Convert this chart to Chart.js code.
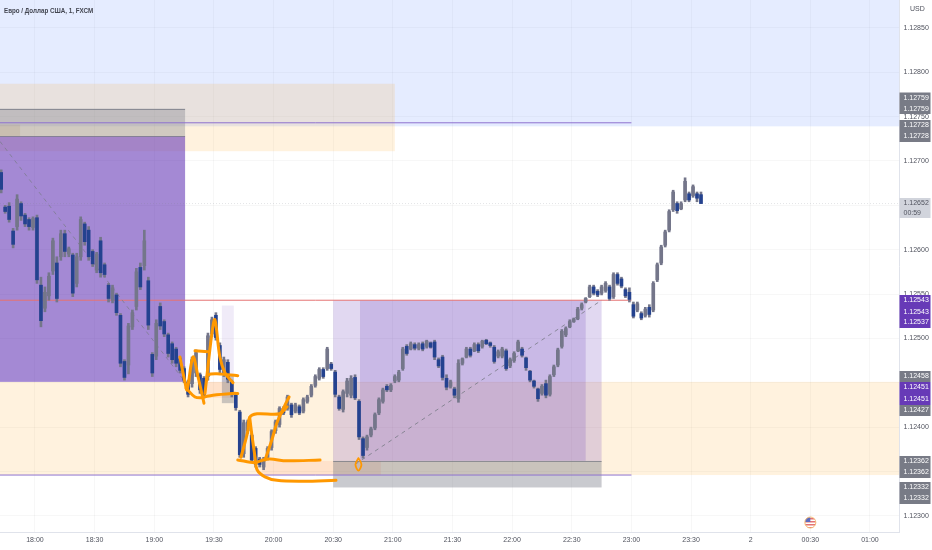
<!DOCTYPE html>
<html>
<head>
<meta charset="utf-8">
<title>EURUSD</title>
<style>
  html, body { margin: 0; padding: 0; background: #fff; }
  canvas { display: block; }
</style>
<script src="https://cdn.jsdelivr.net/npm/chart.js@4/dist/chart.umd.min.js"></script>
</head>
<body>
<canvas id="chart" width="932" height="550"></canvas>
<script>
// candles, 2 minutes each, first one at 17:43
const firstMinute = -17;
const highs = [
  1.12690,1.12650,1.12653,1.12624,1.12662,1.12654,1.12641,1.12636,1.12637,1.12639,
  1.12569,1.12558,1.12574,1.12613,1.12592,1.12622,1.12622,1.12603,1.12596,1.12596,
  1.12637,1.12631,1.12626,1.12600,1.12597,1.12614,1.12585,1.12562,1.12560,1.12551,
  1.12528,1.12476,1.12517,1.12532,1.12579,1.12585,1.12622,1.12569,1.12484,1.12521,
  1.12540,1.12521,1.12506,1.12496,1.12490,1.12479,1.12468,1.12453,1.12479,1.12487,
  1.12461,1.12457,1.12506,1.12524,1.12529,1.12495,1.12479,1.12476,1.12453,1.12438,
  1.12419,1.12408,1.12408,1.12393,1.12378,1.12366,1.12366,1.12378,1.12397,1.12408,
  1.12423,1.12423,1.12436,1.12427,1.12427,1.12425,1.12433,1.12436,1.12448,1.12459,
  1.12467,1.12467,1.12490,1.12473,1.12464,1.12436,1.12442,1.12455,1.12458,1.12459,
  1.12431,1.12389,1.12391,1.12400,1.12416,1.12433,1.12444,1.12448,1.12449,1.12459,
  1.12464,1.12490,1.12493,1.12496,1.12495,1.12495,1.12496,1.12498,1.12496,1.12498,
  1.12478,1.12481,1.12459,1.12453,1.12445,1.12476,1.12478,1.12490,1.12490,1.12495,
  1.12495,1.12498,1.12499,1.12496,1.12492,1.12487,1.12490,1.12488,1.12478,1.12485,
  1.12498,1.12490,1.12479,1.12464,1.12453,1.12444,1.12448,1.12453,1.12459,1.12470,
  1.12489,1.12510,1.12513,1.12521,1.12523,1.12535,1.12540,1.12546,1.12560,1.12560,
  1.12555,1.12560,1.12564,1.12560,1.12574,1.12574,1.12569,1.12557,1.12557,1.12541,
  1.12541,1.12530,1.12535,1.12538,1.12564,1.12585,1.12605,1.12622,1.12645,1.12667,
  1.12654,1.12654,1.12681,1.12665,1.12673,1.12665,1.12665
];
const lows = [
  1.12664,1.12641,1.12631,1.12602,1.12622,1.12633,1.12626,1.12622,1.12622,1.12562,
  1.12513,1.12530,1.12543,1.12572,1.12541,1.12588,1.12592,1.12592,1.12547,1.12558,
  1.12588,1.12605,1.12588,1.12581,1.12574,1.12569,1.12569,1.12541,1.12540,1.12526,
  1.12468,1.12453,1.12460,1.12510,1.12532,1.12555,1.12577,1.12510,1.12457,1.12476,
  1.12510,1.12502,1.12479,1.12472,1.12468,1.12461,1.12450,1.12434,1.12445,1.12457,
  1.12438,1.12433,1.12453,1.12502,1.12498,1.12461,1.12457,1.12450,1.12434,1.12419,
  1.12366,1.12366,1.12393,1.12360,1.12355,1.12355,1.12352,1.12363,1.12374,1.12393,
  1.12400,1.12414,1.12419,1.12411,1.12416,1.12414,1.12416,1.12427,1.12434,1.12445,
  1.12453,1.12455,1.12464,1.12464,1.12434,1.12419,1.12417,1.12434,1.12433,1.12431,
  1.12386,1.12365,1.12374,1.12389,1.12397,1.12414,1.12427,1.12440,1.12440,1.12450,
  1.12451,1.12464,1.12481,1.12487,1.12487,1.12487,1.12486,1.12489,1.12489,1.12476,
  1.12467,1.12453,1.12442,1.12444,1.12433,1.12428,1.12470,1.12478,1.12479,1.12485,
  1.12484,1.12489,1.12493,1.12490,1.12472,1.12478,1.12478,1.12464,1.12467,1.12473,
  1.12485,1.12479,1.12464,1.12451,1.12444,1.12429,1.12436,1.12433,1.12435,1.12457,
  1.12468,1.12489,1.12502,1.12512,1.12518,1.12521,1.12532,1.12540,1.12546,1.12549,
  1.12547,1.12549,1.12552,1.12543,1.12545,1.12560,1.12557,1.12546,1.12541,1.12523,
  1.12530,1.12521,1.12524,1.12524,1.12530,1.12564,1.12583,1.12603,1.12620,1.12643,
  1.12641,1.12645,1.12654,1.12654,1.12659,1.12654,1.12652
];
const opens = [
  1.12687,1.12648,1.12649,1.12621,1.12626,1.12652,1.12639,1.12634,1.12625,1.12636,
  1.12560,1.12534,1.12548,1.12576,1.12585,1.12592,1.12618,1.12595,1.12594,1.12562,
  1.12592,1.12629,1.12622,1.12598,1.12577,1.12610,1.12583,1.12560,1.12543,1.12549,
  1.12526,1.12474,1.12470,1.12513,1.12536,1.12580,1.12582,1.12565,1.12482,1.12480,
  1.12536,1.12519,1.12504,1.12494,1.12488,1.12477,1.12466,1.12451,1.12449,1.12461,
  1.12459,1.12455,1.12457,1.12505,1.12526,1.12492,1.12460,1.12473,1.12451,1.12436,
  1.12417,1.12370,1.12396,1.12391,1.12376,1.12364,1.12355,1.12366,1.12377,1.12396,
  1.12403,1.12421,1.12421,1.12425,1.12418,1.12423,1.12418,1.12429,1.12436,1.12447,
  1.12455,1.12465,1.12466,1.12471,1.12462,1.12434,1.12420,1.12438,1.12436,1.12456,
  1.12429,1.12387,1.12377,1.12391,1.12399,1.12416,1.12429,1.12446,1.12442,1.12452,
  1.12453,1.12466,1.12491,1.12488,1.12493,1.12489,1.12494,1.12491,1.12495,1.12496,
  1.12476,1.12479,1.12455,1.12446,1.12443,1.12432,1.12472,1.12479,1.12488,1.12486,
  1.12493,1.12491,1.12498,1.12495,1.12490,1.12480,1.12480,1.12486,1.12469,1.12475,
  1.12486,1.12488,1.12478,1.12463,1.12452,1.12443,1.12438,1.12449,1.12437,1.12459,
  1.12470,1.12491,1.12504,1.12513,1.12519,1.12522,1.12534,1.12541,1.12547,1.12558,
  1.12553,1.12551,1.12554,1.12558,1.12547,1.12572,1.12567,1.12555,1.12552,1.12538,
  1.12532,1.12528,1.12526,1.12535,1.12532,1.12566,1.12585,1.12605,1.12622,1.12645,
  1.12652,1.12646,1.12656,1.12663,1.12661,1.12663,1.12662
];
const closes = [
  1.12668,1.12643,1.12634,1.12606,1.12657,1.12638,1.12629,1.12626,1.12635,1.12566,
  1.12520,1.12552,1.12570,1.12610,1.12545,1.12618,1.12598,1.12601,1.12551,1.12592,
  1.12634,1.12609,1.12592,1.12584,1.12595,1.12574,1.12572,1.12545,1.12557,1.12529,
  1.12472,1.12456,1.12514,1.12529,1.12575,1.12558,1.12610,1.12515,1.12461,1.12517,
  1.12514,1.12505,1.12483,1.12476,1.12472,1.12464,1.12453,1.12437,1.12476,1.12484,
  1.12442,1.12436,1.12503,1.12521,1.12501,1.12465,1.12476,1.12454,1.12437,1.12422,
  1.12369,1.12405,1.12406,1.12363,1.12358,1.12358,1.12364,1.12376,1.12395,1.12406,
  1.12421,1.12416,1.12434,1.12414,1.12425,1.12416,1.12431,1.12434,1.12446,1.12457,
  1.12465,1.12457,1.12488,1.12466,1.12437,1.12421,1.12440,1.12452,1.12455,1.12433,
  1.12389,1.12368,1.12389,1.12398,1.12414,1.12431,1.12442,1.12442,1.12447,1.12457,
  1.12462,1.12488,1.12483,1.12494,1.12489,1.12493,1.12488,1.12497,1.12490,1.12479,
  1.12469,1.12456,1.12445,1.12451,1.12436,1.12472,1.12477,1.12488,1.12481,1.12493,
  1.12486,1.12497,1.12494,1.12492,1.12474,1.12485,1.12488,1.12466,1.12476,1.12483,
  1.12496,1.12481,1.12467,1.12453,1.12446,1.12432,1.12446,1.12436,1.12457,1.12468,
  1.12487,1.12508,1.12511,1.12519,1.12522,1.12533,1.12538,1.12545,1.12558,1.12551,
  1.12549,1.12558,1.12562,1.12545,1.12572,1.12562,1.12559,1.12548,1.12544,1.12525,
  1.12539,1.12523,1.12533,1.12527,1.12562,1.12583,1.12603,1.12620,1.12643,1.12665,
  1.12644,1.12652,1.12677,1.12656,1.12671,1.12658,1.12652
];

// axes
const timeTicks = [0, 30, 60, 90, 120, 150, 180, 210, 240, 270, 300, 330, 360, 390, 420];
const timeLabels = ['18:00', '18:30', '19:00', '19:30', '20:00', '20:30', '21:00', '21:30', '22:00', '22:30', '23:00', '23:30', '2', '00:30', '01:00'];
const priceTicks = [1.123, 1.1235, 1.124, 1.1245, 1.125, 1.1255, 1.126, 1.1265, 1.127, 1.1275, 1.128, 1.1285];

// horizontal levels [from minute, to minute, price]
const levelUpper = [[-17.6, 1.12743], [300, 1.12743]];
const levelMiddle = [[-17.6, 1.12543], [300, 1.12543]];
const levelLower = [[-17.6, 1.12346], [300, 1.12346]];
const lastPriceLine = [[-17.6, 1.12652], [434.6, 1.12652]];
const dashedDown = [[-17.6, 1.12722], [75.5, 1.12451]];
const dashedUp = [[161, 1.12358], [285, 1.12543]];

// hand drawn orange strokes [minute, price]
const strokeZigzagA = [[72.9, 1.12479], [75.5, 1.1245], [76.5, 1.12442], [79.5, 1.12479], [82, 1.12457], [85, 1.12427]];
const strokeZigzagB = [[85.5, 1.12438], [89, 1.12506], [90.5, 1.12521], [93, 1.12479], [95.6, 1.12461], [99.6, 1.1245]];
const strokeBaseA = [[76, 1.12444], [80.5, 1.12434], [84.5, 1.12433]];
const strokeBaseB = [[85, 1.12434], [89.5, 1.12436], [99.6, 1.12438], [102, 1.12438]];
const strokeTop = [[80.5, 1.12486], [87, 1.12485]];
const strokeMid = [[86.5, 1.12453], [87, 1.12459], [93, 1.1246], [97, 1.12459], [102, 1.12458]];
const strokeFloor = [[102, 1.12363], [110.7, 1.1236], [114.7, 1.12363], [118.2, 1.12364], [126.8, 1.12362], [143.4, 1.12363]];
const strokeRise = [[103.6, 1.12366], [107, 1.12395], [108, 1.12411], [111.7, 1.12415], [123, 1.12415], [126.8, 1.12423]];
const strokeDrop = [[108, 1.12411], [109, 1.12393], [110.7, 1.12366], [111.7, 1.12352], [115.7, 1.12344], [121.7, 1.1234], [134.8, 1.12339], [151.4, 1.1234]];
const strokeClimb = [[115.7, 1.12363], [119.2, 1.12386], [121.7, 1.12405], [125.8, 1.12425], [127.8, 1.12434]];
const strokeLoop = [[162.7, 1.12365], [164.2, 1.12358], [162.7, 1.12351], [161.2, 1.12358], [162.7, 1.12365]];

// shaded boxes [from minute, to minute, top price, bottom price, colour]
const zones = [
  [-17.6, 434.6, 1.1289, 1.12739, 'rgba(41,98,255,0.12)'],
  [-17.6, 434.6, 1.12451, 1.12346, 'rgba(255,152,0,0.13)'],
  [-17.6, 181, 1.12787, 1.12711, 'rgba(255,152,0,0.13)'],
  [-17.6, 75.5, 1.12728, 1.12451, 'rgba(103,58,183,0.6)'],
  [-17.6, 75.5, 1.12759, 1.12728, 'rgba(120,123,134,0.35)'],
  [-17.6, -7.5, 1.12741, 1.12728, 'rgba(160,130,80,0.15)'],
  [85.5, 100, 1.12451, 1.12433, 'rgba(255,112,67,0.12)'],
  [94, 100, 1.12537, 1.12451, 'rgba(103,58,183,0.1)'],
  [94, 100, 1.12458, 1.12427, 'rgba(120,123,134,0.4)'],
  [114, 174, 1.12362, 1.12346, 'rgba(255,112,67,0.12)'],
  [150, 285, 1.12543, 1.12362, 'rgba(103,58,183,0.2)'],
  [163.5, 277, 1.12543, 1.12362, 'rgba(103,58,183,0.2)'],
  [150, 285, 1.12362, 1.12332, 'rgba(120,123,134,0.4)']
];
const zoneEdges = [
  [-17.6, 75.5, 1.12759],
  [-17.6, 75.5, 1.12728],
  [150, 285, 1.12362]
];

// labels stacked on the price axis
const tagLabels = ['1.12759', '1.12759', '1.12728', '1.12728', '1.12543', '1.12543', '1.12537', '1.12458', '1.12451', '1.12451', '1.12427', '1.12362', '1.12362', '1.12332', '1.12332'];
const tagRows = [98, 109, 125.5, 136.5, 300.5, 312, 322.5, 376.5, 387.5, 399, 410.5, 461.5, 472.5, 487.5, 498.5];
const tagBoxes = [[92.5, 114, '#787b86'], [120, 142, '#787b86'], [295, 328, '#673ab7'], [371, 382, '#787b86'], [382, 405, '#673ab7'], [405, 416, '#787b86'], [456, 478, '#787b86'], [482, 504, '#787b86']];

const UP_COLOR = '#74768a';
const DOWN_COLOR = '#24428f';
const STROKE_COLOR = '#ff9800';
const AXIS_FONT = '"Liberation Sans", sans-serif';
const LABEL_SIZE = 7;
const GRID_COLOR = 'rgba(42,46,57,0.04)';

const minutes = highs.map((_, i) => firstMinute + i * 2);
const toPoints = list => list.map(p => ({ x: p[0], y: p[1] }));
const candleColor = i => closes[i] >= opens[i] ? UP_COLOR : DOWN_COLOR;

function levelDataset(points, color, width) {
    return {
        type: 'line', data: toPoints(points), borderColor: color, borderWidth: width,
        pointRadius: 0, order: 5
    };
}

function dashedDataset(points, color, dash) {
    return {
        type: 'line', data: toPoints(points), borderColor: color, borderWidth: 1,
        borderDash: dash, pointRadius: 0, order: 4
    };
}

function strokeDataset(points, width) {
    return {
        type: 'line', data: toPoints(points), borderColor: STROKE_COLOR, borderWidth: width || 3,
        pointRadius: 0, tension: 0.35, borderCapStyle: 'round', borderJoinStyle: 'round', order: 0
    };
}

const paintZones = {
    id: 'paintZones',
    beforeDatasetsDraw(chart) {
        const { ctx, scales: { x, y }, chartArea } = chart;
        ctx.save();
        ctx.beginPath();
        ctx.rect(chartArea.left, chartArea.top, chartArea.width, chartArea.height);
        ctx.clip();
        zones.forEach(z => {
            const left = x.getPixelForValue(z[0]);
            const top = y.getPixelForValue(z[2]);
            ctx.fillStyle = z[4];
            ctx.fillRect(left, top, x.getPixelForValue(z[1]) - left, y.getPixelForValue(z[3]) - top);
        });
        ctx.strokeStyle = 'rgba(120,123,134,0.75)';
        ctx.lineWidth = 1;
        zoneEdges.forEach(e => {
            const py = Math.round(y.getPixelForValue(e[2])) + 0.5;
            ctx.beginPath();
            ctx.moveTo(x.getPixelForValue(e[0]), py);
            ctx.lineTo(x.getPixelForValue(e[1]), py);
            ctx.stroke();
        });
        ctx.restore();
    }
};

const paintOverlay = {
    id: 'paintOverlay',
    afterDraw(chart) {
        const { ctx, scales: { x } } = chart;
        ctx.save();
        ctx.textBaseline = 'middle';

        // title is a condensed face in the reference, squeeze it
        ctx.save();
        ctx.scale(0.78, 1);
        ctx.fillStyle = '#434651';
        ctx.font = 'bold 8px ' + AXIS_FONT;
        ctx.fillText('Евро / Доллар США, 1, FXCM', 4 / 0.78, 11);
        ctx.restore();

        ctx.fillStyle = '#50535e';
        ctx.font = LABEL_SIZE + 'px ' + AXIS_FONT;
        ctx.fillText('USD', 910, 9);

        // stacked price tags
        tagBoxes.forEach(b => {
            ctx.fillStyle = b[2];
            ctx.fillRect(899.5, b[0], 31, b[1] - b[0]);
        });
        ctx.fillStyle = '#fff';
        tagLabels.forEach((t, i) => ctx.fillText(t, 903.5, tagRows[i]));

        // last price
        ctx.fillStyle = '#d1d4dc';
        ctx.fillRect(899.5, 198, 31, 20);
        ctx.fillStyle = '#50535e';
        ctx.fillText('1.12652', 903.5, 203.5);
        ctx.fillText('00:59', 903.5, 213);

        // news flag
        const fx = x.getPixelForValue(390);
        const fy = 522.5;
        ctx.beginPath();
        ctx.arc(fx, fy, 5.5, 0, Math.PI * 2);
        ctx.fillStyle = '#fff';
        ctx.fill();
        ctx.save();
        ctx.clip();
        ctx.fillStyle = '#e57373';
        [518, 521, 524, 527].forEach(sy => ctx.fillRect(fx - 6, sy, 12, 1.5));
        ctx.fillStyle = '#5c6bc0';
        ctx.fillRect(fx - 6, 517, 6, 5);
        ctx.restore();
        ctx.strokeStyle = '#f5b971';
        ctx.lineWidth = 1;
        ctx.stroke();
        ctx.restore();
    }
};

const noPadding = axis => {
    axis.paddingTop = 0;
    axis.paddingBottom = 0;
    axis.paddingLeft = 0;
    axis.paddingRight = 0;
};

new Chart(document.getElementById('chart').getContext('2d'), {
    type: 'bar',
    data: {
        datasets: [
            strokeDataset(strokeZigzagA),
            strokeDataset(strokeZigzagB),
            strokeDataset(strokeBaseA),
            strokeDataset(strokeBaseB),
            strokeDataset(strokeTop),
            strokeDataset(strokeMid),
            strokeDataset(strokeFloor),
            strokeDataset(strokeRise),
            strokeDataset(strokeDrop),
            strokeDataset(strokeClimb),
            strokeDataset(strokeLoop, 1.8),
            {
                // bodies
                data: minutes.map((m, i) => ({ x: m, y: [opens[i], closes[i]] })),
                backgroundColor: minutes.map((_, i) => candleColor(i)),
                barThickness: 3,
                minBarLength: 1,
                grouped: false,
                order: 1
            },
            {
                // wicks
                data: minutes.map((m, i) => ({ x: m, y: [lows[i], highs[i]] })),
                backgroundColor: '#74768a',
                barThickness: 2,
                grouped: false,
                order: 2
            },
            dashedDataset(dashedDown, 'rgba(120,123,134,0.7)', [4, 4]),
            dashedDataset(dashedUp, 'rgba(120,123,134,0.8)', [4, 4]),
            dashedDataset(lastPriceLine, 'rgba(120,123,134,0.2)', [1, 2]),
            levelDataset(levelUpper, '#8e72cf', 1),
            levelDataset(levelMiddle, '#e57373', 1),
            levelDataset(levelLower, '#8e72cf', 1)
        ]
    },
    options: {
        responsive: false,
        animation: false,
        devicePixelRatio: 1,
        layout: { padding: 0 },
        plugins: { legend: { display: false }, tooltip: { enabled: false } },
        scales: {
            x: {
                type: 'linear',
                offset: false,
                min: -17.6,
                max: 434.6,
                afterBuildTicks: axis => { axis.ticks = timeTicks.map(v => ({ value: v })); },
                afterFit: axis => { axis.height = 18; noPadding(axis); },
                grid: { color: GRID_COLOR, drawTicks: false, offset: false },
                border: { color: '#e0e3eb' },
                ticks: {
                    autoSkip: false,
                    maxRotation: 0,
                    padding: 4,
                    color: '#50535e',
                    font: { family: AXIS_FONT, size: LABEL_SIZE },
                    callback: value => timeLabels[timeTicks.indexOf(value)]
                }
            },
            y: {
                position: 'right',
                min: 1.122818,
                max: 1.128814,
                afterBuildTicks: axis => { axis.ticks = priceTicks.map(v => ({ value: v })); },
                afterFit: axis => { axis.width = 33; noPadding(axis); },
                grid: { color: GRID_COLOR, drawTicks: false },
                border: { color: '#e0e3eb' },
                ticks: {
                    padding: 4.5,
                    color: '#50535e',
                    font: { family: AXIS_FONT, size: LABEL_SIZE },
                    callback: value => value.toFixed(5)
                }
            }
        }
    },
    plugins: [paintZones, paintOverlay]
});
</script>
</body>
</html>
